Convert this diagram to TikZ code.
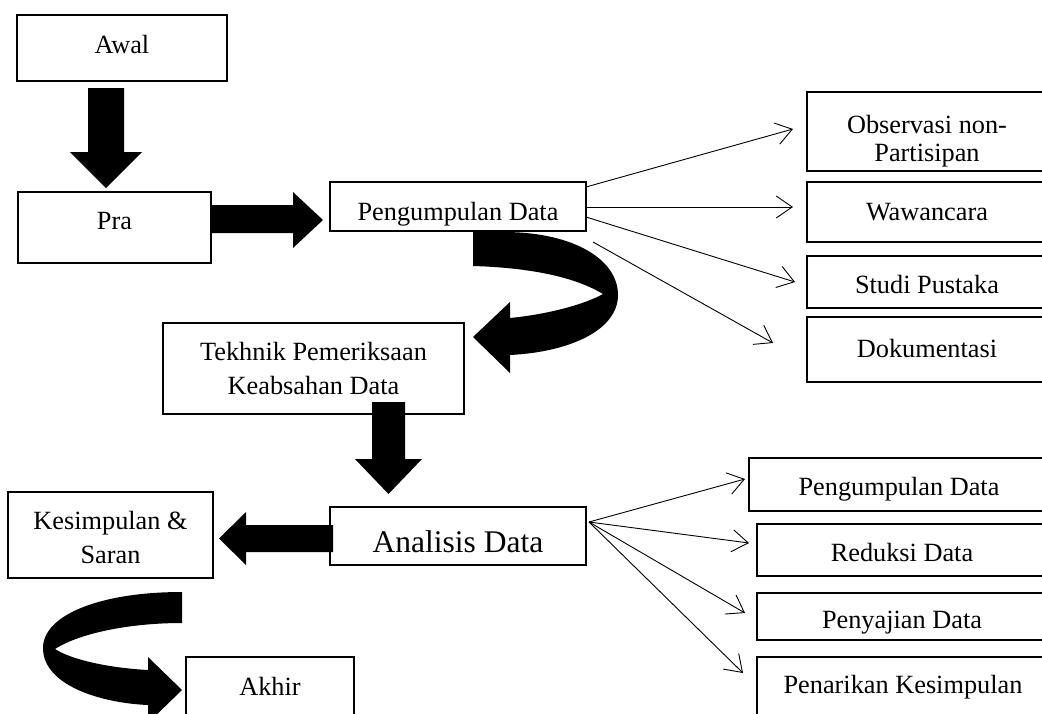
\documentclass[tikz,border=0pt]{standalone}
\usepackage{fontspec}
\setmainfont{Liberation Serif}
\usetikzlibrary{arrows.meta}
\begin{document}
\begin{tikzpicture}[x=1pt,y=-1pt,
  box/.style={draw=black, line width=1.6pt, rectangle, inner sep=0pt},
  lbl/.style={font=\fontsize{26.3}{32}\selectfont, inner sep=0pt, anchor=base},
  biglbl/.style={font=\fontsize{31.5}{38}\selectfont, inner sep=0pt, anchor=base},
  thinarrow/.style={line width=0.9pt, -{Straight Barb[length=16pt,width=22pt,line width=0.9pt]}},
  blockarrow/.style={fill=black, draw=none}]
\useasboundingbox (0,0) rectangle (1042,713);
\fill[white] (0,0) rectangle (1042,713);
\clip (0,0) rectangle (1042,713);

% boxes
\node[box, minimum width=210pt, minimum height=66pt] (awal) at (122,48) {};
\node[box, minimum width=193pt, minimum height=71pt] (pra) at (114.5,227.5) {};
\node[box, minimum width=256pt, minimum height=49pt] (pd) at (458,206.5) {};
\node[box, minimum width=293pt, minimum height=79pt] (obs) at (953.5,131.5) {};
\node[box, minimum width=293pt, minimum height=60pt] (waw) at (953.5,212) {};
\node[box, minimum width=293pt, minimum height=52pt] (stu) at (953.5,282) {};
\node[box, minimum width=293pt, minimum height=65pt] (dok) at (953.5,349.5) {};
\node[box, minimum width=301pt, minimum height=91pt] (tek) at (313.5,368.5) {};
\node[box, minimum width=256pt, minimum height=58pt] (ana) at (458,536) {};
\node[box, minimum width=205pt, minimum height=86pt] (kes) at (110.5,535) {};
\node[box, minimum width=168pt, minimum height=103pt] (akh) at (270,708.5) {};
\node[box, minimum width=351pt, minimum height=53pt] (pd2) at (924.5,484.5) {};
\node[box, minimum width=343pt, minimum height=52pt] (red) at (928.5,550) {};
\node[box, minimum width=343pt, minimum height=47pt] (pen) at (928.5,616.5) {};
\node[box, minimum width=343pt, minimum height=103pt] (tar) at (928.5,708.5) {};

% labels
\node[lbl] (tawal) at (122,53) {Awal};
\node[lbl] (tpra) at (114.5,229) {Pra};
\node[lbl] (tpd) at (458,220) {Pengumpulan Data};
\node[lbl] (tobs1) at (927,133) {Observasi non-};
\node[lbl] (tobs2) at (927,161) {Partisipan};
\node[lbl] (twaw) at (927,220) {Wawancara};
\node[lbl] (tstu) at (927,293) {Studi Pustaka};
\node[lbl] (tdok) at (927,357) {Dokumentasi};
\node[lbl] (ttek1) at (313.5,360) {Tekhnik Pemeriksaan};
\node[lbl] (ttek2) at (313.5,394) {Keabsahan Data};
\node[biglbl] (tana) at (458,552) {Analisis Data};
\node[lbl] (tkes1) at (110.5,529) {Kesimpulan \&};
\node[lbl] (tkes2) at (110.5,563) {Saran};
\node[lbl] (takh) at (270,695) {Akhir};
\node[lbl] (tpd2) at (899,495) {Pengumpulan Data};
\node[lbl] (tred) at (902,561) {Reduksi Data};
\node[lbl] (tpen) at (902,628) {Penyajian Data};
\node[lbl] (ttar) at (903,693) {Penarikan Kesimpulan};

% block arrows
\fill[blockarrow] (88,88) -- (124,88) -- (124,152) -- (142,152) -- (106,188) -- (70,152) -- (88,152) -- cycle;
\fill[blockarrow] (211,205) -- (293,205) -- (293,192) -- (323,220) -- (293,248) -- (293,233) -- (211,233) -- cycle;
\fill[blockarrow] (473,232) -- (507,232) .. controls (575,233) and (618,260) .. (618,295)
   .. controls (618,330) and (570,352) .. (510,355) -- (510,373) -- (473,337) -- (510,302) -- (510,318)
   .. controls (550,314) and (585,304) .. (603,294) .. controls (580,280) and (540,268) .. (473,266) -- cycle;
\fill[blockarrow] (372,402) -- (405,402) -- (405,459) -- (422,459) -- (388.5,494) -- (355,459) -- (372,459) -- cycle;
\fill[blockarrow] (333,525) -- (246,525) -- (246,512) -- (219,538.5) -- (246,565) -- (246,552) -- (333,552) -- cycle;
\fill[blockarrow] (182,592) .. controls (100,592) and (43,615) .. (43,648) .. controls (43,685) and (100,703) .. (148,705)
   -- (148,723) -- (182,690) -- (148,657) -- (148,670) .. controls (110,668) and (72,660) .. (55,649)
   .. controls (80,633) and (130,623) .. (182,623) -- cycle;

% thin connectors
\coordinate (s1) at (586,187);
\coordinate (s2) at (586,207);
\coordinate (s3) at (586,217);
\coordinate (s4) at (593,242);
\coordinate (e1) at (793,129);
\coordinate (e2) at (793,207);
\coordinate (e3) at (795,282);
\coordinate (e4) at (773,343);
\draw[thinarrow] (s1) -- (e1);
\draw[thinarrow] (s2) -- (e2);
\draw[thinarrow] (s3) -- (e3);
\draw[thinarrow] (s4) -- (e4);

\coordinate (a0) at (589,522);
\coordinate (f1) at (745,479);
\coordinate (f2) at (749,543);
\coordinate (f3) at (745,613);
\coordinate (f4) at (743,673);
\draw[thinarrow] (a0) -- (f1);
\draw[thinarrow] (a0) -- (f2);
\draw[thinarrow] (a0) -- (f3);
\draw[thinarrow] (a0) -- (f4);
\end{tikzpicture}
\end{document}
